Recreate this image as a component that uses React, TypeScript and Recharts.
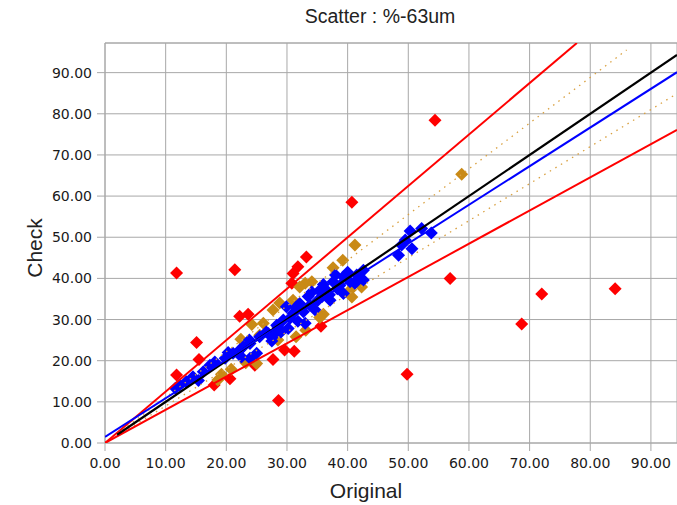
import React from 'react';
import {
  ScatterChart,
  Scatter,
  XAxis,
  YAxis,
  CartesianGrid,
  ReferenceLine
} from 'recharts';

// Ticks
const xTicks = [0, 10, 20, 30, 40, 50, 60, 70, 80, 90];
const yTicks = [0, 10, 20, 30, 40, 50, 60, 70, 80, 90];

// Points inside the band
const bluePoints = [
  [11.6, 13.3], [12.3, 14.1], [13.4, 14.9], [14.5, 16.1], [15.4, 15.2],
  [16.2, 17.3], [17.3, 18.9], [18.1, 19.7], [19.8, 20.6], [20.3, 22.0], [21.1, 21.8],
  [22.2, 22.6], [22.5, 20.9], [22.8, 23.4], [23.8, 25.0], [23.9, 24.2], [23.9, 20.6],
  [25.0, 21.8], [25.5, 25.8], [26.6, 27.0], [26.9, 26.6], [27.5, 24.8], [28.0, 26.3],
  [28.3, 28.6], [28.5, 28.2], [29.0, 27.0], [29.4, 29.9], [29.9, 33.1], [30.2, 27.8],
  [30.5, 30.3], [31.0, 31.5], [31.5, 33.0], [31.8, 29.6], [32.1, 33.9], [32.7, 31.9],
  [33.0, 29.1], [33.5, 35.6], [33.8, 33.5], [34.1, 36.7], [34.6, 32.4], [35.1, 34.7],
  [35.3, 37.0], [35.8, 35.6], [36.0, 38.5], [36.5, 37.1], [37.0, 36.0], [37.1, 34.7],
  [37.6, 39.2], [38.0, 40.8], [38.3, 37.5], [38.7, 38.3], [39.3, 40.4], [39.3, 36.3],
  [40.0, 41.5], [40.4, 39.2], [41.2, 38.8], [41.5, 40.8], [42.6, 42.0], [42.6, 39.6],
  [48.4, 45.6], [48.9, 48.1], [49.5, 49.3], [50.3, 51.5], [50.6, 47.2], [52.2, 52.1],
  [53.8, 51.0]
];

const goldPoints = [
  [58.8, 65.3], [41.2, 48.1], [39.2, 44.4], [37.6, 42.6], [42.3, 37.9], [40.7, 35.5],
  [40.4, 37.1], [34.1, 39.2], [33.0, 38.8], [32.1, 37.9], [31.0, 34.7], [28.8, 34.0],
  [27.7, 32.3], [26.1, 29.1], [24.2, 28.8], [25.5, 26.2], [22.4, 25.2], [36.0, 31.3],
  [35.4, 30.5], [33.1, 27.4], [31.5, 25.8], [28.5, 25.0], [27.8, 25.6], [23.2, 19.5],
  [25.0, 19.3], [20.8, 17.9], [19.2, 16.7], [18.6, 15.3]
];

// Outliers
const redPoints = [
  [54.4, 78.4], [40.7, 58.5], [56.9, 40.0], [84.1, 37.5], [72.0, 36.2], [68.7, 28.9],
  [49.8, 16.7], [28.6, 10.3], [11.8, 41.3], [21.4, 42.1], [11.8, 16.5], [15.1, 24.4],
  [15.5, 20.3], [18.0, 14.1], [20.6, 15.6], [22.2, 30.8], [23.6, 31.3], [24.7, 18.9],
  [27.7, 20.3], [29.6, 22.6], [31.2, 22.3], [35.6, 28.4], [33.2, 45.2], [31.8, 42.8],
  [31.0, 41.2], [30.8, 38.8]
];

// Lines (end points)
const identityLine = [[2, 2], [94.3, 94.3]];
const fitLine = [[0, 1.5], [94.3, 90.1]];
const upperLimit = [[0, 0], [77.8, 97.2]];
const lowerLimit = [[0, 0], [94.3, 76.1]];
const upperBand = [[2, 2.2], [86, 95.5]];
const lowerBand = [[2, 1.8], [94.3, 84.9]];

const toXY = (arr: number[][]) => arr.map(([x, y]) => ({ x, y }));

const GRID = '#a8a8a8';
const TICK_FONT = { fill: '#1a1a1a', fontSize: 14, fontFamily: '"DejaVu Sans", Verdana, sans-serif' };

const Diamond = (props: any) => {
  const { cx, cy, fill } = props;
  const r = 6.5;
  return (
    <polygon
      points={`${cx},${cy - r} ${cx + r},${cy} ${cx},${cy + r} ${cx - r},${cy}`}
      fill={fill}
    />
  );
};

const NoDot = () => <g />;

const fmt = (v: number) => v.toFixed(2);

export default function App() {
  return (
    <div style={{ position: 'relative', width: 677, height: 505, fontFamily: '"Liberation Sans", Arial, sans-serif' }}>
      {/* plot runs to the window edge, so drop the default body margin */}
      <style>{'body { margin: 0; }'}</style>
      <div style={{ position: 'absolute', left: 380, top: 5, transform: 'translateX(-50%)', fontSize: 19.5, color: '#222', whiteSpace: 'nowrap' }}>
        Scatter : %-63um
      </div>
      <ScatterChart width={677} height={505} margin={{ top: 43, right: 0, bottom: 0, left: 0 }}>
        <CartesianGrid stroke={GRID} strokeWidth={1} />
        <XAxis
          type="number"
          dataKey="x"
          domain={[0, 94.3]}
          ticks={xTicks}
          allowDataOverflow
          height={62}
          tickFormatter={fmt}
          tickSize={8}
          tickMargin={7}
          stroke={GRID}
          tick={TICK_FONT}
        />
        <YAxis
          type="number"
          dataKey="y"
          domain={[0, 97.2]}
          ticks={yTicks}
          allowDataOverflow
          width={105}
          tickFormatter={fmt}
          tickSize={8}
          tickMargin={5}
          stroke={GRID}
          tick={TICK_FONT}
        />
        <ReferenceLine y={97.2} stroke={GRID} ifOverflow="visible" />
        <Scatter data={toXY(redPoints)} fill="#ff0000" shape={<Diamond />} isAnimationActive={false} />
        <Scatter data={toXY(goldPoints)} fill="#c98a16" shape={<Diamond />} isAnimationActive={false} />
        <Scatter data={toXY(bluePoints)} fill="#0000ff" shape={<Diamond />} isAnimationActive={false} />
        <Scatter data={toXY(upperBand)} line={{ stroke: '#d9a040', strokeWidth: 1.3, strokeDasharray: '1.5 5' }} shape={<NoDot />} isAnimationActive={false} />
        <Scatter data={toXY(lowerBand)} line={{ stroke: '#d9a040', strokeWidth: 1.3, strokeDasharray: '1.5 5' }} shape={<NoDot />} isAnimationActive={false} />
        <Scatter data={toXY(upperLimit)} line={{ stroke: '#ff0000', strokeWidth: 2 }} shape={<NoDot />} isAnimationActive={false} />
        <Scatter data={toXY(lowerLimit)} line={{ stroke: '#ff0000', strokeWidth: 2 }} shape={<NoDot />} isAnimationActive={false} />
        <Scatter data={toXY(identityLine)} line={{ stroke: '#000000', strokeWidth: 2.2 }} shape={<NoDot />} isAnimationActive={false} />
        <Scatter data={toXY(fitLine)} line={{ stroke: '#0000ff', strokeWidth: 2 }} shape={<NoDot />} isAnimationActive={false} />
      </ScatterChart>
      <div style={{ position: 'absolute', left: 366, top: 479, transform: 'translateX(-50%)', fontSize: 21, lineHeight: '24px', color: '#222', whiteSpace: 'nowrap' }}>
        Original
      </div>
      <div style={{ position: 'absolute', left: 35, top: 248, transform: 'translate(-50%, -50%) rotate(-90deg)', fontSize: 21, color: '#222', whiteSpace: 'nowrap' }}>
        Check
      </div>
    </div>
  );
}
